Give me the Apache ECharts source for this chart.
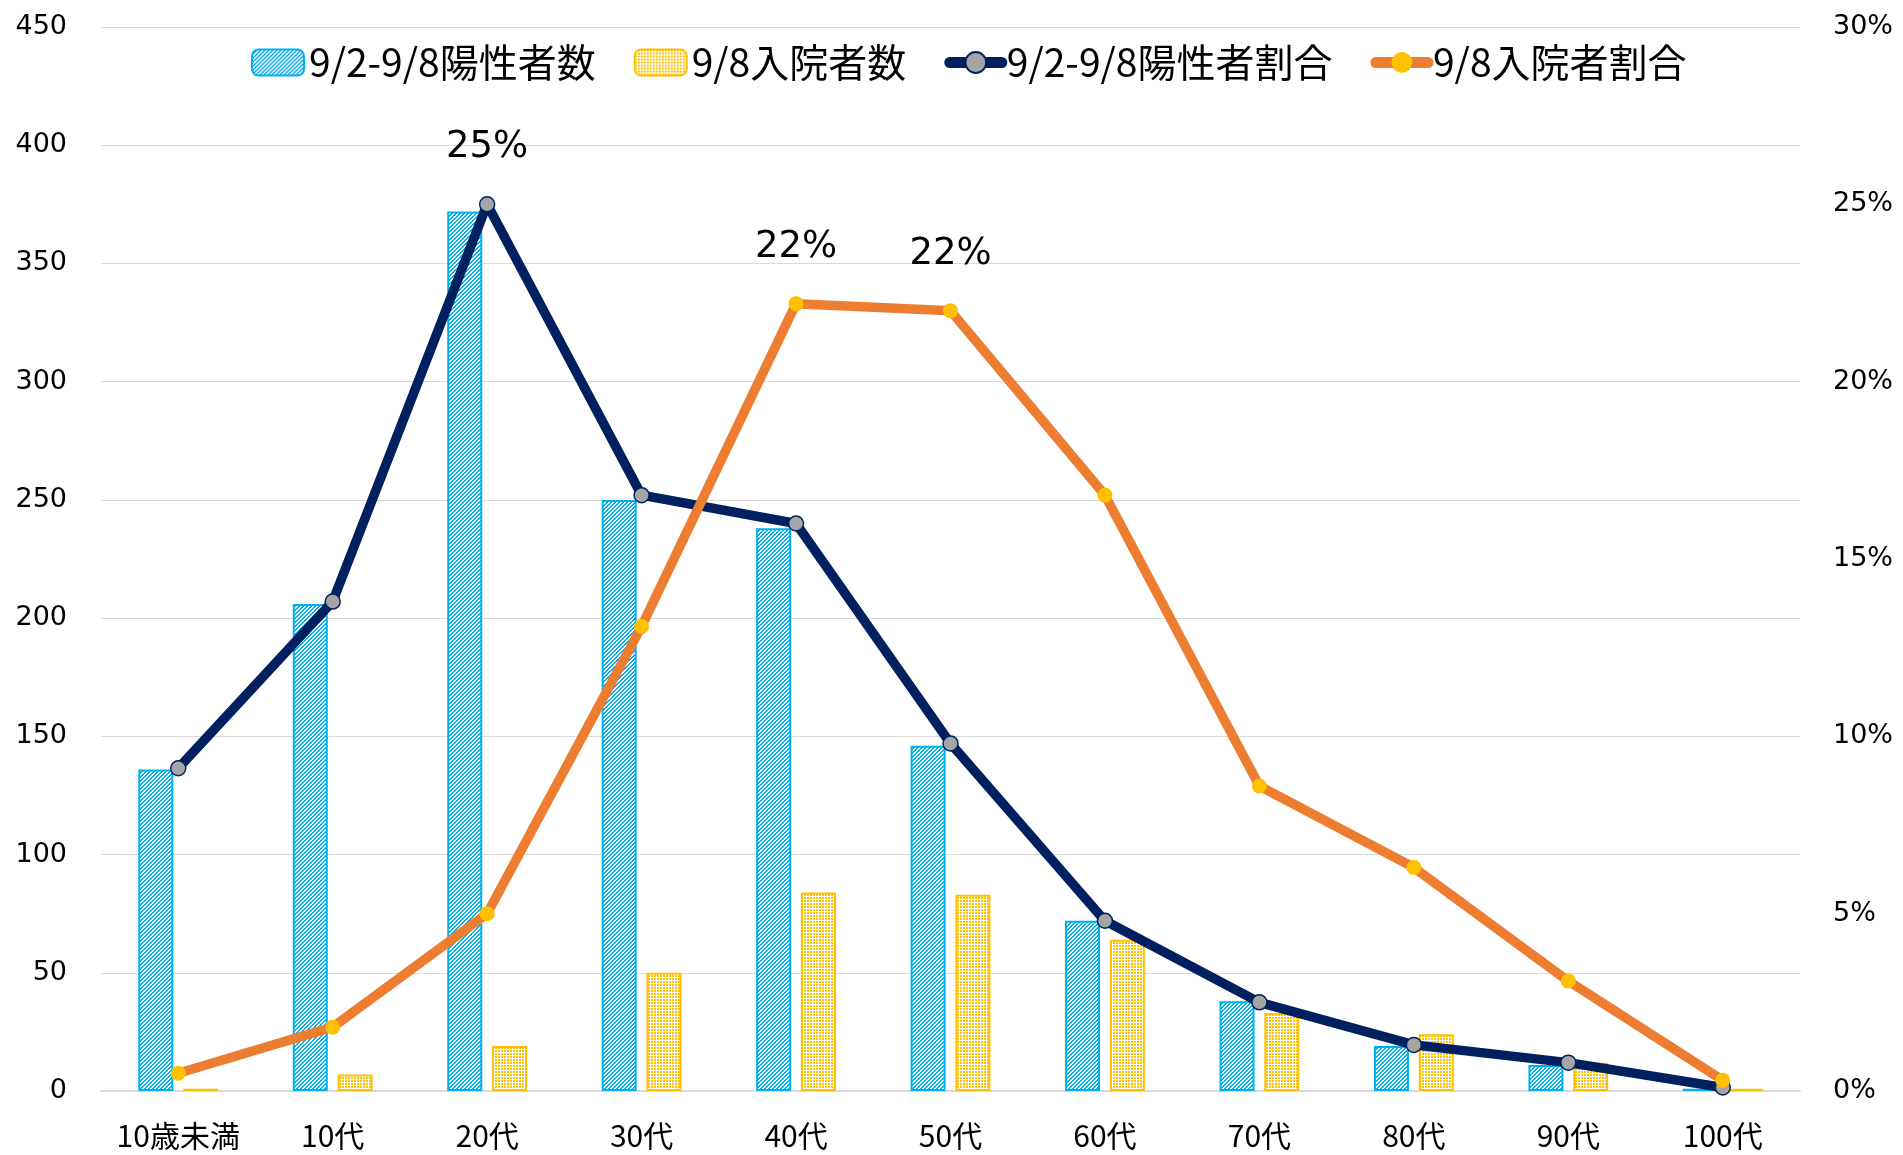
<!DOCTYPE html>
<html>
<head>
<meta charset="utf-8">
<script src="https://cdn.jsdelivr.net/npm/echarts@6/dist/echarts.min.js"></script>
<style>
html,body{margin:0;padding:0;background:#fff;}
#chart{width:1903px;height:1155px;}
</style>
</head>
<body>
<div id="chart"></div>
<script>
const categories = ['10歳未満','10代','20代','30代','40代','50代','60代','70代','80代','90代','100代'];
const positiveCounts = [136, 206, 372, 250, 238, 146, 72, 38, 19, 11, 1];
const hospitalCounts = [1, 7, 19, 50, 84, 83, 64, 33, 24, 12, 1];
const positiveRatio = [9.1, 13.8, 25.0, 16.8, 16.0, 9.8, 4.8, 2.5, 1.3, 0.8, 0.1];
const hospitalRatio = [0.5, 1.8, 5.0, 13.1, 22.2, 22.0, 16.8, 8.6, 6.3, 3.1, 0.3];
const positiveLabelIdx = [2];
const hospitalLabelIdx = [4, 5];
const seriesNames = ['9/2-9/8陽性者数','9/8入院者数','9/2-9/8陽性者割合','9/8入院者割合'];

function stripePattern(){
  const s = 4;
  const c = document.createElement('canvas');
  c.width = s; c.height = s;
  const g = c.getContext('2d');
  g.fillStyle = '#fff'; g.fillRect(0,0,s,s);
  g.fillStyle = '#00B0F0';
  for (let x = 0; x < s; x++) for (let y = 0; y < s; y++) {
    if (((x + y) % 4) < 2) g.fillRect(x, y, 1, 1);
  }
  return c;
}
function dotPattern(){
  const c = document.createElement('canvas');
  c.width = 3; c.height = 3;
  const g = c.getContext('2d');
  g.fillStyle = '#fff'; g.fillRect(0,0,3,3);
  g.fillStyle = '#FFC000';
  g.fillRect(0,0,2,2);
  return c;
}

const labelStyle = {show:true, position:'top', distance:30, fontSize:37, fontFamily:'DejaVu Sans', color:'#000',
  formatter: p => Math.round(p.value) + '%'};

function lineData(vals, idx){
  return vals.map((v,i) => idx.includes(i) ? {value:v, label:labelStyle} : v);
}

const chart = echarts.init(document.getElementById('chart'), null, {renderer:'canvas'});
chart.setOption({
  animation:false,
  backgroundColor:'#fff',
  grid:{left:101, right:103, top:27, bottom:64, containLabel:false},
  legend:{
    top:38, left:246,
    itemWidth:52, itemHeight:26, itemGap:38,
    textStyle:{fontSize:39, fontFamily:'Noto Sans CJK JP', color:'#000'},
    data: [
      {name:seriesNames[0]},
      {name:seriesNames[1]},
      {name:seriesNames[2], lineStyle:{width:11, cap:'round'}},
      {name:seriesNames[3], lineStyle:{width:11, cap:'round'}}
    ]
  },
  xAxis:{
    type:'category', data:categories, boundaryGap:true,
    axisLine:{lineStyle:{color:'#d9d9d9', width:2}},
    axisTick:{show:false},
    axisLabel:{interval:0, fontSize:30, fontFamily:'Noto Sans CJK JP', color:'#000', margin:30}
  },
  yAxis:[
    {type:'value', min:0, max:450, interval:50,
     axisLine:{show:false}, axisTick:{show:false},
     splitLine:{lineStyle:{color:'#d9d9d9', width:1}},
     axisLabel:{fontSize:27, fontFamily:'DejaVu Sans', color:'#000', margin:34}},
    {type:'value', min:0, max:30, interval:5, position:'right',
     axisLine:{show:false}, axisTick:{show:false}, splitLine:{show:false},
     axisLabel:{fontSize:27, fontFamily:'DejaVu Sans', color:'#000', margin:33, formatter:'{value}%'}}
  ],
  series:[
    {name:seriesNames[0], type:'bar', data:positiveCounts, barWidth:35, barGap:'28%',
     itemStyle:{color:{image:stripePattern(), repeat:'repeat'}, borderColor:'#00B0F0', borderWidth:2}},
    {name:seriesNames[1], type:'bar', data:hospitalCounts, barWidth:35,
     itemStyle:{color:{image:dotPattern(), repeat:'repeat'}, borderColor:'#FFC000', borderWidth:2}},
    {name:seriesNames[2], type:'line', yAxisIndex:1, data:lineData(positiveRatio, positiveLabelIdx),
     symbol:'circle', symbolSize:15, z:5,
     lineStyle:{color:'#002060', width:9.5},
     itemStyle:{color:'#A5A5A5', borderColor:'#002060', borderWidth:1.5}},
    {name:seriesNames[3], type:'line', yAxisIndex:1, data:lineData(hospitalRatio, hospitalLabelIdx),
     symbol:'circle', symbolSize:15, z:6,
     lineStyle:{color:'#ED7D31', width:9.5},
     itemStyle:{color:'#FFC000', borderWidth:0}}
  ]
});
</script>
</body>
</html>
